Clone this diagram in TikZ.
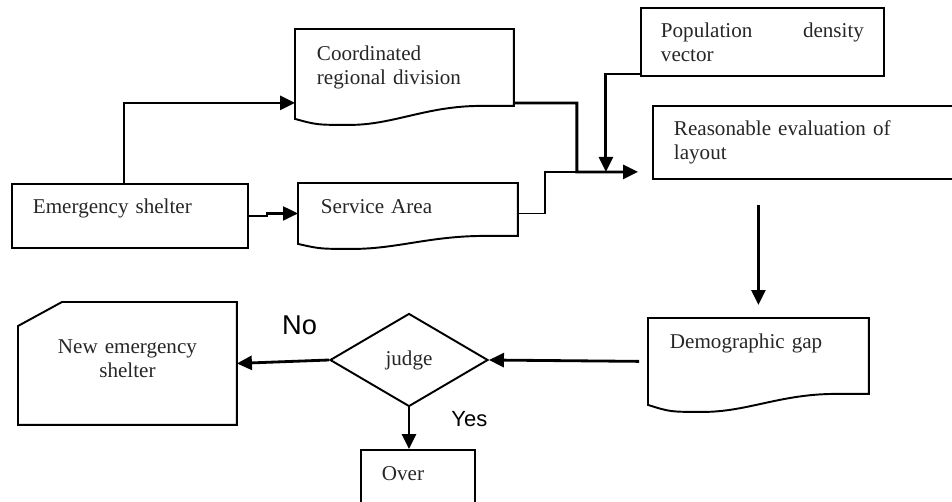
\documentclass[tikz,border=0pt]{standalone}
\usepackage{fontspec}
\setmainfont{Liberation Serif}
\newfontfamily\labelfont{Liberation Sans}
\usepackage{tikz}
\usetikzlibrary{positioning,arrows.meta,shapes.geometric,calc}

% outline of a document box: wavy bottom edge, right end raised by #2, dip #3
\newcommand{\docoutline}[3]{%
  \draw[edge] (#1.south west) -- (#1.north west) -- (#1.north east)
    -- ($(#1.south east)+(0,-#2)$)
    -- ($(#1.south west)!0.85!(#1.south east)+(0,-#2)$)
    .. controls ($(#1.south west)!0.6!(#1.south east)+(0,-#2)$)
       and ($(#1.south west)!0.45!(#1.south east)+(0,#3)$)
    .. ($(#1.south west)!0.25!(#1.south east)+(0,#3)$)
    .. controls ($(#1.south west)!0.1!(#1.south east)+(0,#3)$)
    .. (#1.south west) -- cycle;}

\begin{document}
\begin{tikzpicture}[
    x=0.02cm, y=-0.02cm,
    edge/.style={line width=1.1pt},
    box/.style={rectangle,draw,edge,anchor=north west,align=left,inner xsep=0.42cm,inner ysep=0pt,
        font=\fontsize{12}{13.5}\selectfont,text=black!85},
    doc/.style={box,draw=none},
    judgebox/.style={diamond,draw,edge,inner sep=0pt,minimum width=3.16cm,minimum height=1.86cm,
        font=\fontsize{12}{13.5}\selectfont,text=black!85},
    arrow/.style={-{Triangle[length=0.3cm,width=0.28cm]},line width=1.6pt},
    lbl/.style={inner sep=0pt,font=\labelfont}
]
    \useasboundingbox (0,0) rectangle (952,502);
    \clip (0,0) rectangle (952,502);

    % Boxes
    \node[box,text width=3.88cm,text height=0.6cm,text depth=0.68cm] (shelter) at (11,183) {Emergency shelter};
    \node[doc,text width=3.5cm,text height=0.62cm,text depth=1.14cm] (coord) at (295,29) {Coordinated\\regional division};
    \node[doc,inner xsep=0.44cm,text width=3.48cm,text height=0.6cm,text depth=0.58cm] (service) at (298,183) {Service Area};
    \node[box,inner xsep=0.4cm,text width=4.06cm,text height=0.6cm,text depth=0.76cm] (popul) at (640,7) {Population \hfill density\\vector};
    \node[box,text width=6.12cm,text height=0.6cm,text depth=0.86cm] (reason) at (652,105) {Reasonable evaluation of\\layout};
    \node[doc,text width=3.54cm,text height=0.6cm,text depth=1.1cm] (demog) at (648,318) {Demographic gap};
    \node[judgebox] (judge) at (409,360) {judge};
    \node[doc,align=center,text width=3.5cm,text height=1.02cm,text depth=1.4cm] (newshel) at (18,302) {New emergency\\shelter};
    \node[box,text width=1.44cm,text height=0.62cm,text depth=1cm] (over) at (360,449) {Over};

    \docoutline{coord}{13}{6}
    \docoutline{service}{8}{5}
    \docoutline{demog}{11}{7}
    \draw[edge] ($(newshel.north west)+(44,0)$) -- (newshel.north east) -- (newshel.south east)
        -- (newshel.south west) -- ($(newshel.north west)+(0,24)$) -- cycle;

    % Arrows
    \draw[arrow] ($(shelter.north west)!0.475!(shelter.north east)$) |- ($(coord.south west)+(0,-16)$);
    \draw[arrow,line width=1.2pt] (shelter.east) -- ++(18,0) |- (service.west);
    \draw[arrow] ($(coord.south east)+(0,-16)$) -- ++(63,0) -- ++(0,69) coordinate (merge)
        -- ($(reason.south west)+(-14,-8)$);
    \draw[line width=1pt] (service.east) -- ++(27,0) |- (merge);
    \draw[arrow] ($(popul.south west)+(0,-3)$) -| ($(merge)+(29,0)$);
    \draw[arrow,shorten <=0.5cm,shorten >=0.26cm] (demog.north |- reason.south) -- (demog.north);
    \draw[arrow,shorten <=0.18cm] (demog.west) -- (judge.east);
    \draw[arrow] (judge.west) -- (newshel.east)
        node[lbl,pos=0.32,above=0.5cm,font=\labelfont\fontsize{15.5}{18}\selectfont] {No};
    \draw[arrow] (judge.south) -- (judge.south |- over.north)
        node[lbl,pos=0.27,right=0.82cm,font=\labelfont\fontsize{12.5}{15}\selectfont] {Yes};
\end{tikzpicture}
\end{document}
